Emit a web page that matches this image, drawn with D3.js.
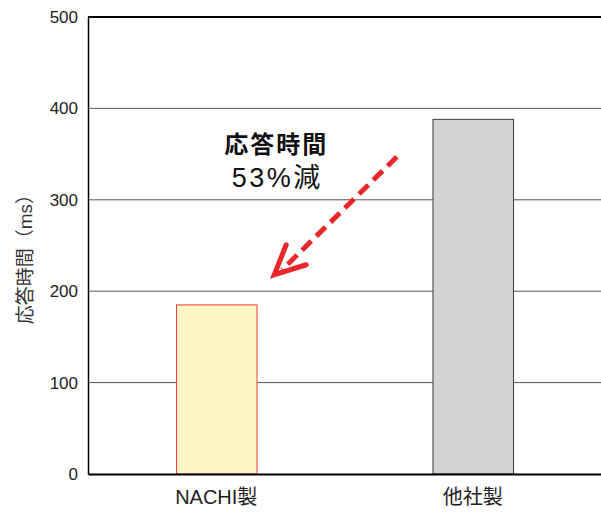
<!DOCTYPE html>
<html>
<head>
<meta charset="utf-8">
<script src="https://d3js.org/d3.v7.min.js"></script>
<style>
  body { margin: 0; background: #fff; }
  text { font-family: "Liberation Sans", Arial, "Noto Sans CJK JP", sans-serif; }
</style>
</head>
<body>
<div id="chart"></div>
<script>
  // data
  const categories = ["NACHI製", "他社製"];
  const values = [185, 388];
  const yTicks = [0, 100, 200, 300, 400, 500];
  const yTitle = "応答時間（ms）";
  const noteLines = ["応答時間", "53%減"];

  const barFill = ["#fdf8c4", "#d1d2d4"];
  const barStroke = ["#ee3b3b", "#3c3c3c"];

  const width = 601, height = 512;
  const margin = {top: 17, right: 0, bottom: 38, left: 88};
  const innerW = width - margin.left - margin.right;
  const innerH = height - margin.top - margin.bottom;

  const svg = d3.select("#chart").append("svg")
    .attr("width", width)
    .attr("height", height);

  const g = svg.append("g")
    .attr("transform", `translate(${margin.left},${margin.top})`);

  const x = d3.scaleBand()
    .domain(categories)
    .range([0, innerW])
    .paddingInner(0.686)
    .paddingOuter(0.343);

  const y = d3.scaleLinear().domain([0, 500]).range([innerH, 0]);

  // gridlines
  g.selectAll(".grid")
    .data(yTicks.filter(d => d > 0 && d < 500))
    .enter().append("line")
    .attr("x1", 0).attr("x2", innerW)
    .attr("y1", d => y(d)).attr("y2", d => y(d))
    .attr("stroke", "#555")
    .attr("stroke-width", 1);

  // top frame line
  g.append("line")
    .attr("x1", 0).attr("x2", innerW)
    .attr("y1", y(500)).attr("y2", y(500))
    .attr("stroke", "#000").attr("stroke-width", 2);

  // bars
  g.selectAll(".bar")
    .data(categories)
    .enter().append("rect")
    .attr("x", d => x(d) + 0.5)
    .attr("y", (d, i) => y(values[i]))
    .attr("width", x.bandwidth())
    .attr("height", (d, i) => innerH - y(values[i]))
    .attr("fill", (d, i) => barFill[i])
    .attr("stroke", (d, i) => barStroke[i])
    .attr("stroke-width", 1);

  // y axis
  const yAxis = g.append("g")
    .call(d3.axisLeft(y).tickValues(yTicks).tickSize(0).tickPadding(10));
  yAxis.select(".domain").attr("stroke", "#000").attr("stroke-width", 1.5);
  yAxis.selectAll("text")
    .style("font-size", "17px")
    .attr("fill", "#222");

  // x axis
  const xAxis = g.append("g")
    .attr("transform", `translate(0,${innerH})`)
    .call(d3.axisBottom(x).tickSize(0).tickPadding(16));
  xAxis.select(".domain").attr("stroke", "#000").attr("stroke-width", 2);
  xAxis.selectAll("text")
    .style("font-size", "20px")
    .attr("fill", "#222");

  // y title
  svg.append("text")
    .attr("transform", `translate(32,${margin.top + y(240)}) rotate(-90)`)
    .attr("text-anchor", "middle")
    .style("font-size", "19px")
    .attr("fill", "#333")
    .text(yTitle);

  // annotation
  const ax = d3.scaleLinear().domain([0, 1]).range([0, innerW]);
  g.append("text")
    .attr("x", ax(0.367))
    .attr("y", y(351))
    .attr("text-anchor", "middle")
    .style("font-size", "24px")
    .style("font-weight", "bold")
    .style("letter-spacing", "2px")
    .attr("fill", "#111")
    .text(noteLines[0]);
  g.append("text")
    .attr("x", ax(0.369))
    .attr("y", y(314))
    .attr("text-anchor", "middle")
    .style("font-size", "27px")
    .style("letter-spacing", "2.5px")
    .attr("fill", "#111")
    .text(noteLines[1]);

  // dashed arrow
  const arrowStart = [ax(0.602), y(347)];
  const arrowEnd = [ax(0.363), y(218)];
  const red = "#e8262b";
  g.append("line")
    .attr("x1", arrowStart[0]).attr("y1", arrowStart[1])
    .attr("x2", arrowEnd[0] + 8).attr("y2", arrowEnd[1] - 5)
    .attr("stroke", red)
    .attr("stroke-width", 5)
    .attr("stroke-dasharray", "13 7");
  g.append("path")
    .attr("d", d3.line()([
      [arrowEnd[0] + 12, arrowEnd[1] - 30],
      arrowEnd,
      [arrowEnd[0] + 32, arrowEnd[1] - 10]
    ]))
    .attr("fill", "none")
    .attr("stroke", red)
    .attr("stroke-width", 5)
    .attr("stroke-linecap", "round")
    .attr("stroke-linejoin", "miter");
</script>
</body>
</html>
